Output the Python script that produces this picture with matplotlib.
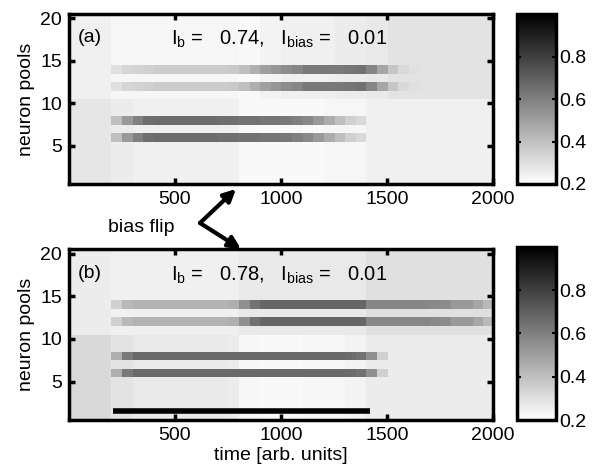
import numpy as np
import matplotlib
matplotlib.use('Agg')
from matplotlib import pyplot as plt

plt.rcParams['font.family'] = ['Liberation Sans', 'DejaVu Sans']
plt.rcParams['mathtext.fontset'] = 'custom'
plt.rcParams['mathtext.rm'] = 'Liberation Sans'
plt.rcParams['font.size'] = 14

# time bins of 50 units, 0..2000
t_edges = np.arange(0, 2050, 50)
n_pools = 20

# panel (a): background of pools 11-20 and 1-10, stripes on pools 12/14 and 6/8
a_bg_top = [0.25, 0.25, 0.25, 0.25, 0.23, 0.23, 0.23, 0.23, 0.23, 0.23,
            0.23, 0.23, 0.23, 0.23, 0.23, 0.23, 0.22, 0.22, 0.24, 0.24,
            0.25, 0.25, 0.25, 0.25, 0.25, 0.26, 0.26, 0.26, 0.27, 0.27,
            0.29, 0.29, 0.29, 0.29, 0.29, 0.29, 0.29, 0.29, 0.29, 0.29]
a_bg_bot = [0.28, 0.28, 0.28, 0.28, 0.26, 0.26, 0.25, 0.25, 0.25, 0.25,
            0.25, 0.25, 0.25, 0.25, 0.25, 0.25, 0.22, 0.22, 0.22, 0.22,
            0.22, 0.22, 0.22, 0.22, 0.23, 0.23, 0.23, 0.23, 0.25, 0.25,
            0.25, 0.25, 0.25, 0.25, 0.25, 0.25, 0.25, 0.25, 0.25, 0.25]
a_stripe_up = [None, None, None, None, 0.30, 0.33, 0.34, 0.35, 0.36, 0.36,
               0.36, 0.36, 0.36, 0.36, 0.36, 0.37, 0.40, 0.45, 0.50, 0.53,
               0.56, 0.58, 0.62, 0.62, 0.62, 0.62, 0.63, 0.64, 0.58, 0.48,
               0.38, 0.32, 0.30, 0.29, None, None, None, None, None, None]
a_stripe_lo = [None, None, None, None, 0.40, 0.52, 0.60, 0.65, 0.66, 0.66,
               0.66, 0.66, 0.66, 0.66, 0.65, 0.65, 0.64, 0.64, 0.63, 0.63,
               0.62, 0.60, 0.57, 0.52, 0.46, 0.40, 0.35, 0.32, None, None,
               None, None, None, None, None, None, None, None, None, None]

# panel (b)
b_bg_top = [0.26, 0.26, 0.26, 0.26, 0.25, 0.25, 0.25, 0.25, 0.25, 0.25,
            0.25, 0.25, 0.25, 0.25, 0.25, 0.25, 0.27, 0.27, 0.27, 0.27,
            0.27, 0.27, 0.27, 0.27, 0.27, 0.27, 0.27, 0.27, 0.30, 0.30,
            0.30, 0.30, 0.30, 0.30, 0.30, 0.30, 0.30, 0.30, 0.30, 0.30]
b_bg_bot = [0.32, 0.32, 0.32, 0.32, 0.29, 0.29, 0.27, 0.27, 0.27, 0.27,
            0.27, 0.27, 0.27, 0.27, 0.27, 0.26, 0.23, 0.23, 0.22, 0.22,
            0.22, 0.22, 0.23, 0.23, 0.23, 0.23, 0.24, 0.24, 0.26, 0.26,
            0.26, 0.26, 0.26, 0.26, 0.26, 0.26, 0.26, 0.26, 0.26, 0.26]
b_stripe_up = [None, None, None, None, 0.35, 0.42, 0.44, 0.44, 0.44, 0.44,
               0.44, 0.44, 0.44, 0.44, 0.44, 0.45, 0.55, 0.64, 0.68, 0.68,
               0.68, 0.68, 0.68, 0.68, 0.68, 0.68, 0.68, 0.68, 0.58, 0.58,
               0.58, 0.58, 0.58, 0.58, 0.57, 0.56, 0.52, 0.52, 0.48, 0.42]
b_stripe_lo = [None, None, None, None, 0.45, 0.62, 0.67, 0.67, 0.67, 0.67,
               0.67, 0.67, 0.67, 0.67, 0.67, 0.67, 0.67, 0.67, 0.67, 0.67,
               0.67, 0.67, 0.67, 0.67, 0.67, 0.67, 0.66, 0.64, 0.55, 0.35,
               None, None, None, None, None, None, None, None, None, None]

up_pools = [12, 14]
lo_pools = [6, 8]

# stimulus bar in panel (b)
bar_t = [210, 1420]
bar_pool = 1.5

labels = ['(a)', '(b)']
Ib = [0.74, 0.78]
Ibias = [0.01, 0.01]


def build(bg_top, bg_bot, s_up, s_lo):
    m = np.zeros((n_pools, len(bg_top)))
    for p in range(1, n_pools + 1):
        m[p - 1] = bg_top if p > 10 else bg_bot
    for p in up_pools:
        m[p - 1] = [v if v is not None else m[p - 1][i] for i, v in enumerate(s_up)]
    for p in lo_pools:
        m[p - 1] = [v if v is not None else m[p - 1][i] for i, v in enumerate(s_lo)]
    return m


mats = [build(a_bg_top, a_bg_bot, a_stripe_up, a_stripe_lo),
        build(b_bg_top, b_bg_bot, b_stripe_up, b_stripe_lo)]

fig = plt.figure(figsize=(5.99, 4.73), dpi=100)
ax_pos = [[0.115, 0.611, 0.708, 0.359], [0.115, 0.112, 0.708, 0.361]]
cb_pos = [[0.863, 0.611, 0.066, 0.359], [0.863, 0.112, 0.066, 0.366]]

for k in range(2):
    ax = fig.add_axes(ax_pos[k])
    im = ax.imshow(mats[k], origin='lower', aspect='auto', cmap='gray_r',
                   vmin=0.2, vmax=1.0, interpolation='nearest',
                   extent=[t_edges[0], t_edges[-1], 0.5, n_pools + 0.5])
    ax.set_xlim(0, 2000)
    ax.set_ylim(0.5, 20.5)
    ax.set_xticks([500, 1000, 1500, 2000])
    ax.set_yticks([5, 10, 15, 20])
    ax.tick_params(direction='in', top=True, right=True, length=4, width=2.5, pad=5)
    for s in ax.spines.values():
        s.set_linewidth(2.5)
    ax.set_ylabel('neuron pools', labelpad=4)
    ax.text(0.02, 0.86, labels[k], transform=ax.transAxes, va='center', ha='left')
    ax.text(0.495, 0.85,
            r'$\mathregular{I_b}$ =   %.2f,   $\mathregular{I_{bias}}$ =   %.2f' % (Ib[k], Ibias[k]),
            transform=ax.transAxes, va='center', ha='center', fontsize=14.5)
    if k == 1:
        ax.plot(bar_t, [bar_pool, bar_pool], color='k', lw=4, solid_capstyle='butt')
        ax.set_xlabel('time [arb. units]', labelpad=2)

    cax = fig.add_axes(cb_pos[k])
    cb = fig.colorbar(im, cax=cax, ticks=[0.2, 0.4, 0.6, 0.8])
    cb.outline.set_linewidth(2.5)
    cax.tick_params(direction='in', left=True, right=True, length=3, width=1.5, pad=2)

# bias flip arrows
fig.text(141 / 599, 1 - 227 / 473, 'bias flip', ha='center', va='center')
vert = (200 / 599, 1 - 223 / 473)
for head in [(236 / 599, 1 - 189 / 473), (241 / 599, 1 - 249 / 473)]:
    fig.add_artist(matplotlib.patches.FancyArrowPatch(
        vert, head, transform=fig.transFigure, arrowstyle='-|>',
        mutation_scale=18, lw=3, color='k', shrinkA=0, shrinkB=0))

plt.savefig('out.png', dpi=100)
